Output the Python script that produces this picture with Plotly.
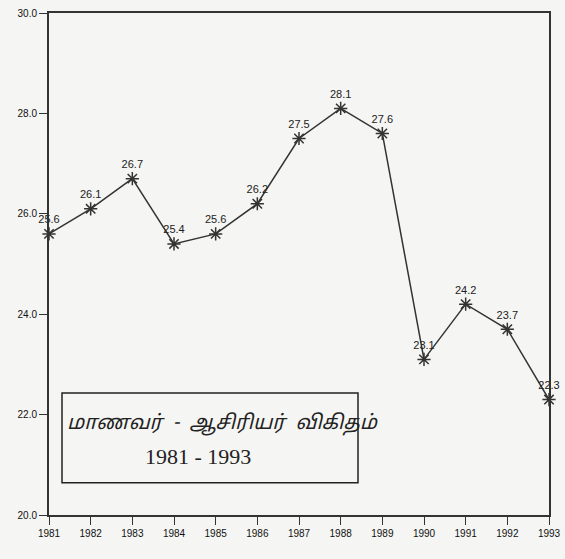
import plotly.graph_objects as go

years = [1981, 1982, 1983, 1984, 1985, 1986, 1987, 1988, 1989, 1990, 1991, 1992, 1993]
ratio = [25.6, 26.1, 26.7, 25.4, 25.6, 26.2, 27.5, 28.1, 27.6, 23.1, 24.2, 23.7, 22.3]
y_ticks = [20, 22, 24, 26, 28, 30]
y_labels = ["20.0", "22.0", "24.0", "26.0", "28.0", "30.0"]
title_ta = "மாணவர்  -  ஆசிரியர்  விகிதம்"
title_years = "1981 - 1993"

fig = go.Figure()
fig.add_trace(go.Scatter(
    x=years, y=ratio, mode="lines+markers+text",
    line=dict(color="#333333", width=1.5),
    marker=dict(symbol="asterisk-open", size=11, line=dict(color="#222222", width=1.5)),
    text=[f"{v:.1f}" for v in ratio], textposition="top center",
    textfont=dict(family="Liberation Sans Narrow, Arial Narrow, Liberation Sans", size=11, color="#222222"),
    cliponaxis=False, showlegend=False,
))

fig.add_shape(type="rect", xref="paper", yref="paper",
              x0=0.026, x1=0.618, y0=0.064, y1=0.243,
              line=dict(color="#222222", width=1.5), fillcolor="rgba(0,0,0,0)")
fig.add_annotation(xref="paper", yref="paper", x=0.032, y=0.181, xanchor="left", yanchor="middle",
                   text=f"<i>{title_ta}</i>", showarrow=False,
                   font=dict(family="Noto Sans Tamil, Noto Sans, sans-serif", size=20, color="#222222"))
fig.add_annotation(xref="paper", yref="paper", x=0.298, y=0.1175, xanchor="center", yanchor="middle",
                   text=title_years, showarrow=False,
                   font=dict(family="Liberation Serif, Times New Roman, serif", size=22, color="#222222"))

fig.update_xaxes(range=[1981, 1993], tickmode="array", tickvals=years,
                 ticktext=[str(y) for y in years], automargin=False,
                 ticks="outside", ticklen=8, tickcolor="#333333", tickwidth=1.2,
                 showline=True, linecolor="#333333", linewidth=2, mirror=True,
                 showgrid=False, zeroline=False,
                 tickfont=dict(family="Liberation Sans Narrow, Liberation Sans", size=10, color="#111111"))
fig.update_yaxes(range=[20, 30], tickmode="array", tickvals=y_ticks, ticktext=y_labels,
                 automargin=False,
                 ticks="outside", ticklen=8, tickcolor="#333333", tickwidth=1.2,
                 showline=True, linecolor="#333333", linewidth=2, mirror=True,
                 showgrid=False, zeroline=False,
                 tickfont=dict(family="Liberation Sans Narrow, Liberation Sans", size=10, color="#111111"))

fig.update_layout(width=565, height=559, margin=dict(l=49, r=16, t=13, b=44),
                  paper_bgcolor="#f5f5f3", plot_bgcolor="#f5f5f3")

fig.write_html("out.html", config={"displayModeBar": False},
               post_script="document.body.style.margin='0';document.body.style.background='#f5f5f3';")
